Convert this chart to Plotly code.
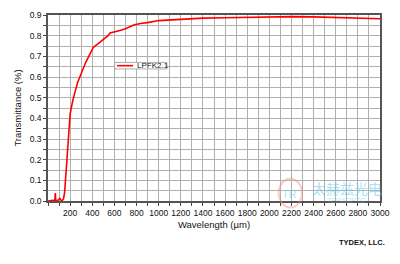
import plotly.graph_objects as go

wavelength = [0, 15, 30, 45, 55, 62, 66, 70, 80, 90, 100, 105, 112, 120, 130, 140, 150, 160, 170, 180,
              190, 200, 210, 230, 266, 300, 340, 380, 410, 450, 500, 543, 560, 600, 650, 700, 780,
              850, 900, 1000, 1100, 1200, 1300, 1400, 1600, 1800, 2000, 2200, 2400, 2600, 2800, 3000]
transmittance = [0.0, 0.002, 0.001, 0.003, 0.002, 0.004, 0.039, 0.004, 0.002, 0.003, 0.006, 0.015, 0.004,
                 0.002, 0.003, 0.01, 0.04, 0.12, 0.2, 0.28, 0.36, 0.42, 0.45, 0.5, 0.571, 0.62, 0.67,
                 0.712, 0.744, 0.76, 0.78, 0.80, 0.813, 0.817, 0.825, 0.834, 0.853, 0.86, 0.863, 0.873,
                 0.876, 0.878, 0.882, 0.885, 0.887, 0.889, 0.891, 0.892, 0.891, 0.889, 0.885, 0.882]
series_name = "LPFK2.1"
x_ticks = list(range(0, 3001, 100))
x_labels = [str(v) if (v % 200 == 0 and v > 0) else "" for v in x_ticks]
y_ticks = [round(i * 0.05, 2) for i in range(19)]
y_labels = [f"{v:.1f}" if i % 2 == 0 else "" for i, v in enumerate(y_ticks)]

FONT = "Liberation Sans, Arial, sans-serif"
RED = "#ff0000"

fig = go.Figure()
fig.add_trace(go.Scatter(x=wavelength, y=transmittance, mode="lines", name=series_name,
                         line=dict(color=RED, width=1.6), showlegend=False))

axis_common = dict(showline=True, linecolor="#555555", linewidth=1.5, mirror=True,
                   ticks="outside", ticklen=3, tickwidth=1, tickcolor="#444444",
                   showgrid=True, gridcolor="#b0b0b0", gridwidth=1,
                   tickfont=dict(family=FONT, size=8.5, color="#111111"), zeroline=False)

fig.update_xaxes(range=[0, 3000], tickmode="array", tickvals=x_ticks, ticktext=x_labels,
                 title=dict(text="Wavelength (\u00b5m)", font=dict(family=FONT, size=9.5, color="#111111"),
                            standoff=4),
                 **axis_common)
fig.update_yaxes(range=[0, 0.9], tickmode="array", tickvals=y_ticks, ticktext=y_labels,
                 title=dict(text="Transmittance (%)", font=dict(family=FONT, size=9.5, color="#111111"),
                            standoff=6),
                 **axis_common)

# legend box (drawn compactly, like the reference)
lx0, lx1, ly0, ly1 = 0.201, 0.358, 0.71, 0.745
fig.add_shape(type="rect", xref="paper", yref="paper", x0=lx0, x1=lx1, y0=ly0, y1=ly1,
              line=dict(color="#999999", width=0.8), fillcolor="white", layer="above")
fig.add_shape(type="line", xref="paper", yref="paper", x0=lx0 + 0.007, x1=lx0 + 0.055,
              y0=(ly0 + ly1) / 2, y1=(ly0 + ly1) / 2, line=dict(color=RED, width=1.6), layer="above")
fig.add_annotation(text=series_name, xref="paper", yref="paper", x=lx0 + 0.06, y=(ly0 + ly1) / 2,
                   xanchor="left", yanchor="middle", showarrow=False,
                   font=dict(family=FONT, size=8, color="#111111"))

fig.add_annotation(text="<b>TYDEX, LLC.</b>", xref="paper", yref="paper", x=1.02, y=-0.19,
                   xanchor="right", yanchor="top", showarrow=False,
                   font=dict(family=FONT, size=7.5, color="#111111"))
# watermark
fig.add_annotation(text="太赫兹光电", xref="paper", yref="paper", x=0.9, y=0.068,
                   xanchor="center", yanchor="middle", showarrow=False,
                   font=dict(family="Noto Sans CJK SC", size=14, color="rgba(110,205,235,0.6)"))
fig.add_annotation(text="TERAOPTO", xref="paper", yref="paper", x=0.9, y=0.003,
                   xanchor="center", yanchor="middle", showarrow=False,
                   font=dict(family=FONT, size=7, color="rgba(110,205,235,0.5)"))
fig.add_annotation(text="TR", xref="paper", yref="paper", x=0.727, y=0.04,
                   xanchor="center", yanchor="middle", showarrow=False,
                   font=dict(family=FONT, size=11, color="rgba(110,205,235,0.55)"))
fig.add_shape(type="circle", xref="paper", yref="paper", x0=0.695, x1=0.765, y0=-0.035, y1=0.12,
              line=dict(color="rgba(240,140,130,0.45)", width=2))

fig.update_layout(width=400, height=264, margin=dict(l=48, r=17, t=10, b=63),
                  paper_bgcolor="white", plot_bgcolor="white",
                  font=dict(family=FONT, color="#111111"),
                  showlegend=False)

fig.write_html("out.html")
